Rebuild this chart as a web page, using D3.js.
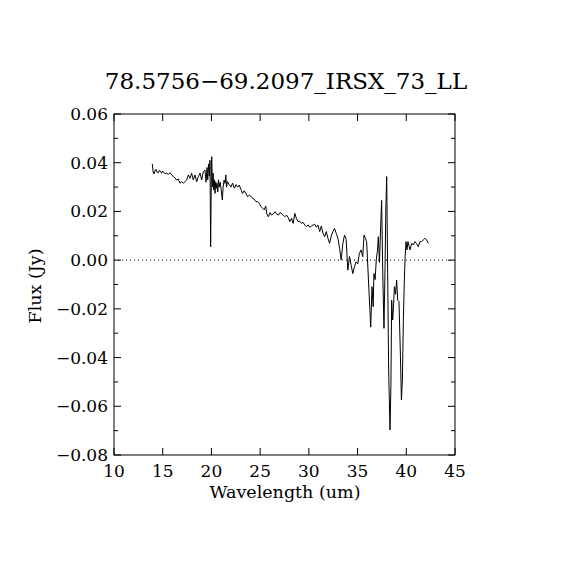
<!DOCTYPE html>
<html>
<head>
<meta charset="utf-8">
<script src="https://cdn.jsdelivr.net/npm/d3@7"></script>
<style>
  body { margin: 0; background: #fff; }
  text { font-family: "DejaVu Serif", "Liberation Serif", serif; fill: #000; }
</style>
</head>
<body>
<script>
// spectrum
const wavelength = [
  13.93, 14.02, 14.10, 14.20, 14.31, 14.42, 14.55, 14.64, 14.72, 14.81, 14.90, 14.98, 15.06, 15.23, 15.41,
  15.58, 15.75, 15.92, 16.09, 16.26, 16.43, 16.60, 16.77, 16.95, 17.11, 17.28, 17.46, 17.63, 17.80, 17.97,
  18.14, 18.31, 18.49, 18.66, 18.83, 19.00, 19.17, 19.34, 19.45, 19.55, 19.62, 19.70, 19.78, 19.85, 19.92,
  20.00, 20.03, 20.10, 20.17, 20.24, 20.30, 20.37, 20.44, 20.51, 20.58, 20.65, 20.72, 20.80, 20.90, 21.00,
  21.12, 21.20, 21.30, 21.40, 21.48, 21.55, 21.65, 21.82, 22.00, 22.17, 22.35, 22.52, 22.69, 22.86, 23.03,
  23.20, 23.37, 23.54, 23.71, 23.88, 24.05, 24.22, 24.40, 24.57, 24.74, 24.91, 25.08, 25.25, 25.42, 25.58,
  25.67, 25.84, 26.01, 26.18, 26.35, 26.52, 26.69, 26.86, 27.03, 27.20, 27.37, 27.54, 27.71, 27.88, 28.05,
  28.22, 28.39, 28.56, 28.73, 28.90, 29.07, 29.24, 29.41, 29.58, 29.75, 29.92, 30.09, 30.26, 30.43, 30.60,
  30.77, 30.94, 31.11, 31.28, 31.45, 31.62, 31.79, 31.96, 32.13, 32.30, 32.47, 32.64, 32.81, 32.98, 33.15,
  33.32, 33.49, 33.66, 33.83, 34.00, 34.17, 34.34, 34.51, 34.68, 34.85, 35.02, 35.19, 35.36, 35.53, 35.66,
  35.80, 35.93, 36.07, 36.20, 36.35, 36.48, 36.60, 36.68, 36.80, 36.92, 37.05, 37.13, 37.25, 37.38, 37.47,
  37.58, 37.71, 37.82, 37.90, 37.99, 38.10, 38.19, 38.33, 38.42, 38.50, 38.60, 38.70, 38.78, 38.90, 39.01,
  39.12, 39.25, 39.40, 39.50, 39.60, 39.70, 39.80, 39.88, 39.97, 40.07, 40.17, 40.27, 40.38, 40.55, 40.72,
  40.89, 41.06, 41.23, 41.40, 41.57, 41.74, 41.92, 42.09, 42.26
];
const flux = [
  0.0395, 0.0362, 0.0354, 0.0366, 0.0373, 0.0362, 0.0359, 0.0368, 0.0367, 0.0360, 0.0357, 0.0366, 0.0363, 0.0355, 0.0357,
  0.0352, 0.0359, 0.0350, 0.0343, 0.0338, 0.0329, 0.0333, 0.0316, 0.0322, 0.0316, 0.0322, 0.0329, 0.0350, 0.0336, 0.0357,
  0.0329, 0.0350, 0.0322, 0.0343, 0.0357, 0.0329, 0.0363, 0.0370, 0.0320, 0.0380, 0.0330, 0.0395, 0.0345, 0.0410, 0.0055,
  0.0390, 0.0425, 0.0300, 0.0357, 0.0288, 0.0330, 0.0274, 0.0322, 0.0295, 0.0315, 0.0280, 0.0330, 0.0300, 0.0320, 0.0290,
  0.0247, 0.0300, 0.0329, 0.0315, 0.0350, 0.0300, 0.0322, 0.0310, 0.0300, 0.0316, 0.0295, 0.0310, 0.0300, 0.0308, 0.0290,
  0.0274, 0.0285, 0.0274, 0.0260, 0.0267, 0.0262, 0.0254, 0.0250, 0.0240, 0.0240, 0.0233, 0.0220, 0.0213, 0.0206, 0.0222,
  0.0192, 0.0178, 0.0195, 0.0185, 0.0190, 0.0199, 0.0190, 0.0185, 0.0195, 0.0192, 0.0185, 0.0178, 0.0185, 0.0175, 0.0158,
  0.0172, 0.0151, 0.0192, 0.0170, 0.0158, 0.0160, 0.0151, 0.0155, 0.0144, 0.0137, 0.0145, 0.0135, 0.0140, 0.0144, 0.0148,
  0.0135, 0.0144, 0.0117, 0.0140, 0.0110, 0.0096, 0.0117, 0.0090, 0.0069, 0.0100, 0.0117, 0.0130, 0.0110, 0.0090, 0.0049,
  0.0001, 0.0069, 0.0103, 0.0085, -0.0041, 0.0015, -0.0021, -0.0055, -0.0027, -0.0007, -0.0015, 0.0028, 0.0042, 0.0014, 0.0103,
  0.0090, 0.0076, -0.0041, -0.0150, -0.0275, -0.0109, -0.0191, -0.0055, -0.0080, 0.0001, 0.0042, 0.0096, -0.0010, 0.0151, 0.0245,
  -0.0041, -0.0280, -0.0030, 0.0206, 0.0343, -0.0100, -0.0451, -0.0697, -0.0520, -0.0164, -0.0246, -0.0180, -0.0109, -0.0140, -0.0082,
  -0.0164, -0.0170, -0.0396, -0.0574, -0.0492, -0.0246, -0.0082, 0.0014, 0.0076, 0.0042, 0.0076, 0.0060, 0.0042, 0.0069, 0.0062,
  0.0076, 0.0068, 0.0055, 0.0076, 0.0076, 0.0083, 0.0090, 0.0083, 0.0069
];
const xTicks = [10, 15, 20, 25, 30, 35, 40, 45];
const yTicks = [-0.08, -0.06, -0.04, -0.02, 0.00, 0.02, 0.04, 0.06];
const yMinor = [-0.07, -0.05, -0.03, -0.01, 0.01, 0.03, 0.05];
const title = "78.5756\u221269.2097_IRSX_73_LL";

const W = 570, H = 570;
const padL = 114, padR = 455, padT = 114, padB = 455;

const svg = d3.select("body").append("svg")
  .attr("width", W)
  .attr("height", H);

const x = d3.scaleLinear().domain([10, 45]).range([padL, padR]);
const y = d3.scaleLinear().domain([-0.08, 0.06]).range([padB, padT]);

const fmt = d => d3.format(".2f")(d).replace("-", "\u2212");

// frame
svg.append("rect")
  .attr("x", padL).attr("y", padT)
  .attr("width", padR - padL).attr("height", padB - padT)
  .attr("fill", "none").attr("stroke", "#000").attr("stroke-width", 1);

// ticks on all four sides, drawn inward
const tickGroup = svg.append("g").attr("stroke", "#000").attr("stroke-width", 1);
xTicks.forEach(t => {
  tickGroup.append("line").attr("x1", x(t)).attr("x2", x(t)).attr("y1", padB).attr("y2", padB - 7);
  tickGroup.append("line").attr("x1", x(t)).attr("x2", x(t)).attr("y1", padT).attr("y2", padT + 7);
});
yTicks.forEach(t => {
  tickGroup.append("line").attr("x1", padL).attr("x2", padL + 7).attr("y1", y(t)).attr("y2", y(t));
  tickGroup.append("line").attr("x1", padR).attr("x2", padR - 7).attr("y1", y(t)).attr("y2", y(t));
});
yMinor.forEach(t => {
  tickGroup.append("line").attr("x1", padL).attr("x2", padL + 4).attr("y1", y(t)).attr("y2", y(t));
  tickGroup.append("line").attr("x1", padR).attr("x2", padR - 4).attr("y1", y(t)).attr("y2", y(t));
});

// tick labels
svg.append("g").selectAll("text").data(xTicks).join("text")
  .attr("x", d => x(d))
  .attr("y", padB + 22)
  .attr("text-anchor", "middle")
  .attr("font-size", 17)
  .text(d => d);

svg.append("g").selectAll("text").data(yTicks).join("text")
  .attr("x", padL - 6)
  .attr("y", d => y(d) + 6)
  .attr("text-anchor", "end")
  .attr("font-size", 17)
  .text(d => fmt(d));

// zero line
svg.append("line")
  .attr("x1", padL).attr("x2", padR)
  .attr("y1", y(0)).attr("y2", y(0))
  .attr("stroke", "#000").attr("stroke-width", 1)
  .attr("stroke-dasharray", "1,3");

// spectrum
const pts = wavelength.map((w, i) => [w, flux[i]]);
svg.append("path")
  .datum(pts)
  .attr("fill", "none")
  .attr("stroke", "#000")
  .attr("stroke-width", 1)
  .attr("d", d3.line().x(d => x(d[0])).y(d => y(d[1])));

// labels
svg.append("text")
  .attr("x", 286).attr("y", 89)
  .attr("text-anchor", "middle")
  .attr("font-size", 23)
  .text(title);

svg.append("text")
  .attr("x", 285).attr("y", 498)
  .attr("text-anchor", "middle")
  .attr("font-size", 17.5)
  .text("Wavelength (um)");

svg.append("text")
  .attr("transform", "translate(41,286) rotate(-90)")
  .attr("text-anchor", "middle")
  .attr("font-size", 17.5)
  .text("Flux (Jy)");
</script>
</body>
</html>
